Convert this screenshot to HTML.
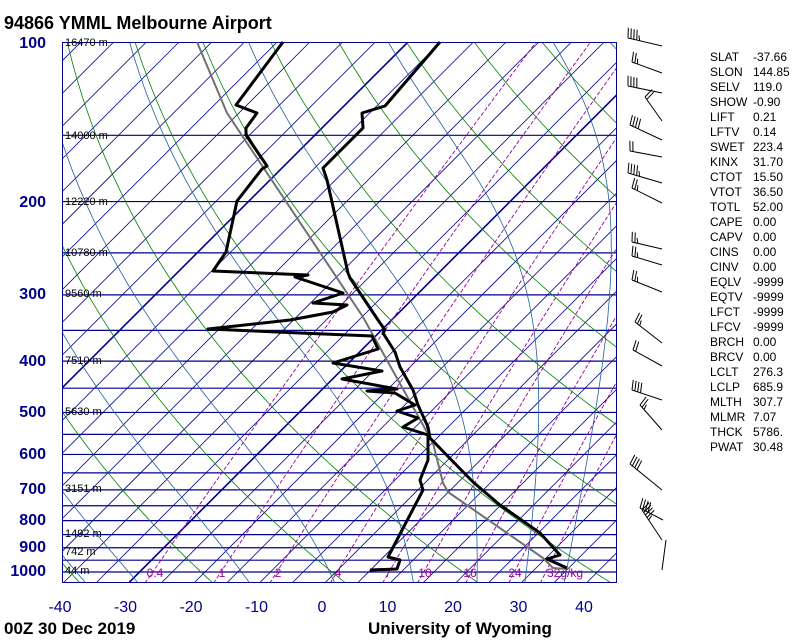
<!DOCTYPE html>
<html><head><meta charset="utf-8"><style>
body{margin:0;background:#fff;width:800px;height:640px;overflow:hidden}
svg{display:block}
</style></head><body>
<svg id="s" width="800" height="640" xmlns="http://www.w3.org/2000/svg" font-family="Liberation Sans, sans-serif">
<defs><clipPath id="c"><rect x="62" y="42" width="555" height="541"/></clipPath></defs>
<g id="grid" clip-path="url(#c)"></g>
<g id="fg"></g>
</svg>
<script>
var NS="http://www.w3.org/2000/svg";
var grid=document.getElementById('grid'),fg=document.getElementById('fg');
function el(par,tag,a,txt){var e=document.createElementNS(NS,tag);for(var k in a)e.setAttribute(k,a[k]);if(txt!=null)e.textContent=txt;par.appendChild(e);return e;}
var L=62,R=617,T=42,B=583;
function yOf(p){return 42+530*Math.log10(p/100);}
function xOf(t,p){return 322+6.55*t+(B-yOf(p));}
function poly(par,pts,st,w,dash){el(par,'polyline',{points:pts.map(function(q){return q[0].toFixed(1)+','+q[1].toFixed(1)}).join(' '),fill:'none',stroke:st,'stroke-width':w,'stroke-dasharray':dash||'none','stroke-linejoin':'round'});}
// isotherms every 5C
for(var k=-20;k<=30;k++){var s=450+32.7*k;var bold=(k==0||k==8);el(grid,'line',{x1:s-B,y1:B,x2:s-T,y2:T,stroke:'#00008b','stroke-width':bold?1.6:0.8});}
// isobars
for(var p=100;p<=1050;p+=50){var y=yOf(p);el(grid,'line',{x1:L,y1:y,x2:R,y2:y,stroke:'#00008b','stroke-width':1.2});}
// dry adiabats
for(var th=193;th<=600;th+=20){var pts=[];for(var p=1050;p>=100;p-=10){var t=th*Math.pow(p/1000,0.286)-273.15;pts.push([xOf(t,p),yOf(p)]);}poly(grid,pts,'#008000',0.8);}
// moist adiabats
function es(t){return 6.112*Math.exp(17.67*t/(t+243.5));}
[-70,-58,-46,-36,-28,-11,2,14,23.7,31,37].forEach(function(t0){var t=t0+273.15,pts=[];for(var p=1050;p>=100;p-=5){var tc=t-273.15;pts.push([xOf(tc,p),yOf(p)]);var rs=0.622*es(tc)/(p-es(tc));var Lv=2.5e6,Rd=287,cp=1005;var d=(Rd*t+Lv*rs)/(cp+Lv*Lv*rs*0.622/(Rd*t*t))/p;t-=d*5;}poly(grid,pts,'#1f5fa0',0.8);});
// mixing ratio
[0.4,1,2,4,7,10,16,24,32].forEach(function(w){var pts=[];for(var p=1050;p>=100;p-=25){var e=w*p/(622+w);var l=Math.log(e/6.112);var td=243.5*l/(17.67-l);pts.push([xOf(td,p),yOf(p)]);}poly(grid,pts,'#990099',0.9,'4,2');});
el(grid,'rect',{x:L,y:T,width:R-L,height:B-T,fill:'none',stroke:'#00008b','stroke-width':2});
// mixing labels
[[155,'0.4'],[222,'1'],[278,'2'],[338,'4'],[388,'7'],[425,'10'],[470,'16'],[515,'24'],[565,'32g/kg']].forEach(function(a){el(fg,'text',{x:a[0],y:577,fill:'#990099','font-size':12,'text-anchor':'middle'},a[1]);});
// height labels
[[42,'16470 m'],[135,'14000 m'],[201,'12220 m'],[252,'10780 m'],[293,'9560 m'],[360,'7510 m'],[411,'5630 m'],[488,'3151 m'],[533,'1492 m'],[551,'742 m'],[570,'44 m']].forEach(function(a){el(fg,'text',{x:65,y:a[0]+4,'font-size':11,fill:'#000'},a[1]);});
// pressure labels
[[100,42],[200,201],[300,293],[400,360],[500,411],[600,453],[700,488],[800,519],[900,546],[1000,570]].forEach(function(a){el(fg,'text',{x:46,y:a[1]+6,'font-size':16,'font-weight':'bold',fill:'#00008b','text-anchor':'end'},a[0]);});
for(var t=-40;t<=40;t+=10){el(fg,'text',{x:322+6.55*t,y:612,'font-size':16,fill:'#00008b','text-anchor':'middle'},t);}
// sounding
var dew=[[283,42],[236,105],[257,113],[246,128],[246,135],[267,166],[262,169],[237,201],[226,252],[213,271],[308,275],[295,277],[343,293],[313,303],[347,305],[333,312],[290,320],[208,329],[300,333],[372,336],[378,349],[333,363],[382,371],[342,379],[397,389],[367,391],[395,393],[415,405],[397,411],[418,418],[403,427],[428,435],[428,460],[420,480],[423,490],[388,557],[400,560],[397,569],[370,570]];
var tmp=[[440,42],[385,106],[362,113],[363,128],[323,168],[327,180],[348,273],[350,278],[378,320],[385,330],[383,333],[395,352],[400,367],[413,390],[418,405],[428,427],[430,438],[473,482],[500,505],[540,533],[560,555],[547,559],[567,568]];
var par=[[197,42],[227,113],[267,173],[363,317],[433,443],[443,483],[448,492],[543,558],[553,568],[567,569]];
poly(fg,par,'#707070',2);
poly(fg,dew,'#000',3);poly(fg,tmp,'#000',3);
// barbs
var barbs=[[662,46,628,38,5],[662,73,632,62,3],[662,93,628,86,4],[662,121,645,97,2],[662,140,630,125,4],[662,157,630,151,2],[662,183,628,173,5],[662,203,632,188,3],[662,249,632,242,3],[662,265,632,256,3],[662,292,632,280,3],[662,343,635,322,3],[662,366,633,350,2],[662,400,632,390,4],[662,430,640,405,3],[662,490,630,464,4],[662,540,642,510,5],[663,520,640,508,4],[662,570,666,540,0]];
barbs.forEach(function(b){var dx=b[2]-b[0],dy=b[3]-b[1],l=Math.hypot(dx,dy),ux=dx/l,uy=dy/l;el(fg,'line',{x1:b[0],y1:b[1],x2:b[2],y2:b[3],stroke:'#000','stroke-width':1});var px=uy,py=-ux;if(py>0){px=-px;py=-py;}for(var i=0;i<b[4];i++){var bx=b[2]-ux*i*3,by=b[3]-uy*i*3;var len=(i==b[4]-1&&b[4]%2)?5:10;el(fg,'line',{x1:bx,y1:by,x2:bx+px*len+ux*2,y2:by+py*len+uy*2,stroke:'#000','stroke-width':1});}});
// stats
var st=[['SLAT','-37.66'],['SLON','144.85'],['SELV','119.0'],['SHOW','-0.90'],['LIFT','0.21'],['LFTV','0.14'],['SWET','223.4'],['KINX','31.70'],['CTOT','15.50'],['VTOT','36.50'],['TOTL','52.00'],['CAPE','0.00'],['CAPV','0.00'],['CINS','0.00'],['CINV','0.00'],['EQLV','-9999'],['EQTV','-9999'],['LFCT','-9999'],['LFCV','-9999'],['BRCH','0.00'],['BRCV','0.00'],['LCLT','276.3'],['LCLP','685.9'],['MLTH','307.7'],['MLMR','7.07'],['THCK','5786.'],['PWAT','30.48']];
st.forEach(function(a,i){var y=61+i*15.0;el(fg,'text',{x:710,y:y,'font-size':12,fill:'#000'},a[0]);el(fg,'text',{x:753,y:y,'font-size':12,fill:'#000'},a[1]);});
el(fg,'text',{x:4,y:29,'font-size':18,'font-weight':'bold',fill:'#000'},'94866 YMML Melbourne Airport');
el(fg,'text',{x:4,y:634,'font-size':17,'font-weight':'bold',fill:'#000'},'00Z 30 Dec 2019');
el(fg,'text',{x:368,y:634,'font-size':17,'font-weight':'bold',fill:'#000'},'University of Wyoming');
</script>
</body></html>
